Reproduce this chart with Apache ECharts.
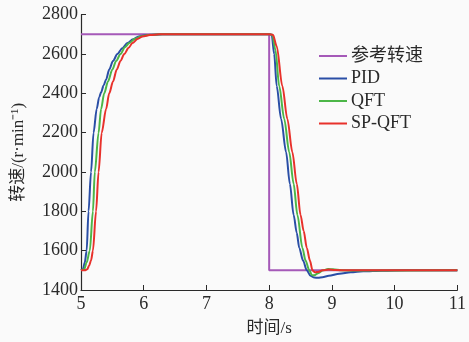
<!DOCTYPE html>
<html><head><meta charset="utf-8">
<script src="https://cdn.jsdelivr.net/npm/echarts@6/dist/echarts.min.js"></script>
<style>html,body{margin:0;padding:0;background:#fafafa}#c{width:469px;height:342px}</style>
</head><body><div id="c"></div>
<script>
var seriesNames = ['参考转速', 'PID', 'QFT', 'SP-QFT'];
var xTicks = [5, 6, 7, 8, 9, 10, 11];
var yTicks = [1400, 1600, 1800, 2000, 2200, 2400, 2600, 2800];

var refT = [5, 8, 8, 11];
var refV = [2700, 2700, 1500, 1500];

var pidT = [5.00, 5.03, 5.06, 5.09, 5.12, 5.16, 5.20, 5.25, 5.29, 5.32, 5.36, 5.40, 5.45, 5.51, 5.58, 5.66, 5.74, 5.83, 5.92, 6.05, 6.3, 7.0, 7.2, 8.00, 8.04, 8.08, 8.12, 8.19, 8.27, 8.33, 8.39, 8.44, 8.48, 8.54, 8.60, 8.66, 8.72, 8.78, 8.85, 8.95, 9.12, 9.3, 9.5, 9.8, 10.2, 11];
var pidV = [1500, 1505, 1540, 1600, 1800, 2000, 2200, 2320, 2380, 2405, 2440, 2470, 2521, 2565, 2600, 2630, 2656, 2675, 2689, 2697, 2700, 2701, 2700, 2700, 2698, 2600, 2437, 2270, 2101, 1940, 1782, 1690, 1614, 1550, 1500, 1472, 1463, 1462, 1465, 1472, 1483, 1490, 1495, 1498, 1500, 1500];

var qftT = [5.00, 5.05, 5.09, 5.14, 5.19, 5.22, 5.28, 5.32, 5.37, 5.43, 5.50, 5.56, 5.63, 5.70, 5.77, 5.86, 5.96, 6.1, 6.3, 8.00, 8.05, 8.10, 8.16, 8.24, 8.32, 8.39, 8.45, 8.53, 8.58, 8.64, 8.68, 8.72, 8.78, 8.86, 8.94, 9.02, 9.15, 9.4, 11];
var qftV = [1500, 1505, 1540, 1600, 1800, 2000, 2200, 2320, 2400, 2460, 2521, 2565, 2600, 2635, 2656, 2678, 2690, 2698, 2700, 2700, 2698, 2620, 2437, 2270, 2101, 1940, 1782, 1614, 1550, 1500, 1476, 1475, 1485, 1500, 1507, 1505, 1500, 1499, 1500];

var spT = [5.00, 5.06, 5.10, 5.13, 5.16, 5.19, 5.24, 5.28, 5.33, 5.40, 5.45, 5.51, 5.57, 5.63, 5.69, 5.76, 5.82, 5.90, 5.98, 6.1, 6.25, 8.00, 8.06, 8.12, 8.21, 8.29, 8.37, 8.44, 8.50, 8.55, 8.60, 8.65, 8.69, 8.73, 8.78, 8.85, 8.95, 9.05, 9.3, 11];
var spV = [1500, 1500, 1505, 1525, 1550, 1600, 1800, 2000, 2200, 2320, 2400, 2460, 2521, 2565, 2600, 2632, 2656, 2676, 2689, 2697, 2700, 2700, 2698, 2640, 2437, 2270, 2101, 1940, 1782, 1700, 1614, 1550, 1500, 1490, 1492, 1500, 1504, 1502, 1500, 1500];

var colors = ['#a559b8', '#2a4ea6', '#4cb648', '#e8312b'];

function pairs(t, v) { return t.map(function (x, i) { return [x, v[i]]; }); }
var serif = "'Liberation Serif', 'Noto Sans CJK SC', serif";
var axisCol = '#2a2a2a';

var chart = echarts.init(document.getElementById('c'));
var data = [pairs(refT, refV), pairs(pidT, pidV), pairs(qftT, qftV), pairs(spT, spV)];
chart.setOption({
  animation: false,
  backgroundColor: '#fafafa',
  grid: { left: 81, right: 8, top: 14.7, bottom: 49.3 },
  legend: {
    left: 314, top: 42, orient: 'vertical', itemGap: 4.5,
    itemWidth: 28, itemHeight: 2, icon: 'rect',
    textStyle: { fontFamily: serif, fontSize: 18, color: '#2a2a2a', padding: [0, 0, 0, -1] },
    data: seriesNames
  },
  xAxis: {
    type: 'value', min: xTicks[0], max: xTicks[xTicks.length - 1], interval: 1,
    name: '时间/s', nameLocation: 'middle', nameGap: 30,
    nameTextStyle: { fontFamily: serif, fontSize: 17, color: '#2a2a2a' },
    axisLine: { lineStyle: { color: axisCol, width: 1.2 } },
    axisTick: { inside: true, length: 5, lineStyle: { color: axisCol } },
    axisLabel: { fontFamily: serif, fontSize: 18, color: '#2a2a2a', margin: 5 },
    splitLine: { show: false }
  },
  yAxis: {
    type: 'value', min: yTicks[0], max: yTicks[yTicks.length - 1], interval: 200,
    name: '转速/(r·min⁻¹)', nameLocation: 'middle', nameGap: 54,
    nameTextStyle: { fontFamily: serif, fontSize: 17, color: '#2a2a2a' },
    axisLine: { show: true, lineStyle: { color: axisCol, width: 1.2 } },
    axisTick: { show: true, inside: true, length: 5, lineStyle: { color: axisCol } },
    axisLabel: { fontFamily: serif, fontSize: 18, color: '#2a2a2a', margin: 3,
      formatter: function (v) { return String(v); } },
    splitLine: { show: false }
  },
  series: seriesNames.map(function (n, i) {
    return {
      name: n, type: 'line', data: data[i], showSymbol: false, symbol: 'none',
      smooth: i === 0 ? false : 0.3, smoothMonotone: 'x',
      lineStyle: { color: colors[i], width: 2 },
      itemStyle: { color: colors[i] }
    };
  })
});
</script></body></html>
